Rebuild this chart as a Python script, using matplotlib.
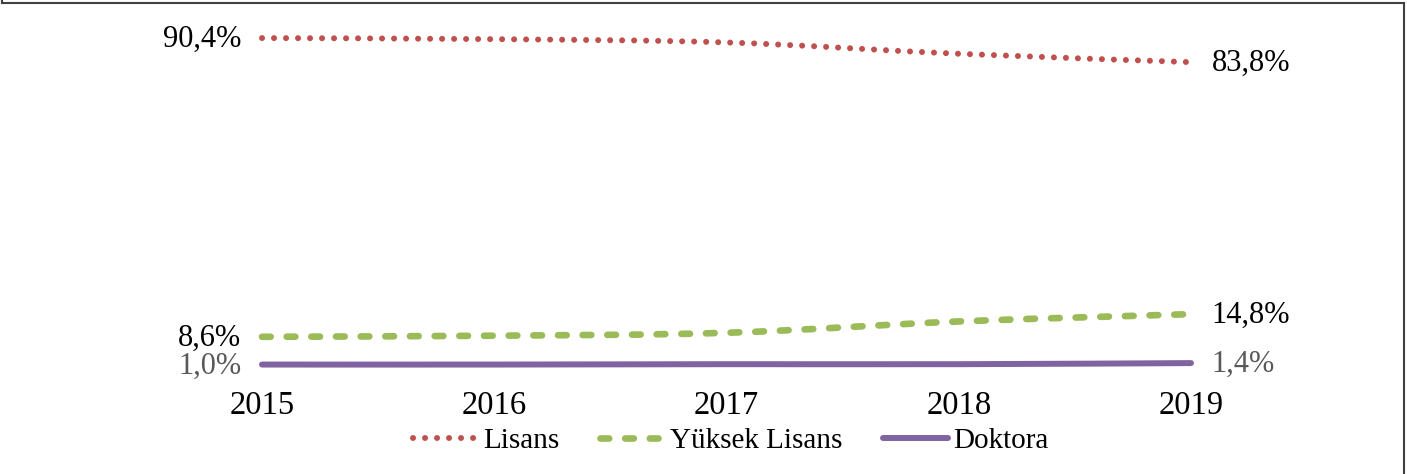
import numpy as np
import matplotlib
matplotlib.use("Agg")
import matplotlib.pyplot as plt
from matplotlib.path import Path
from matplotlib.patches import PathPatch
from matplotlib.lines import Line2D

plt.rcParams['font.family'] = ['Liberation Serif', 'DejaVu Serif']

years = [2015, 2016, 2017, 2018, 2019]
lisans = [90.4, 90.1, 89.2, 86.1, 83.8]
yuksek_lisans = [8.6, 8.9, 9.7, 12.8, 14.8]
doktora = [1.0, 1.0, 1.1, 1.1, 1.4]

series_names = ['Lisans', 'Yüksek Lisans', 'Doktora']
colors = ['#C0504D', '#9BBB59', '#8064A2']
label_colors = ['black', 'black', '#595959']


def smooth_path(x, y):
    """Bezier path through the points (Excel style smoothed line)."""
    p = np.column_stack([x, y]).astype(float)
    n = len(p)
    verts = [p[0]]
    codes = [Path.MOVETO]
    for i in range(n - 1):
        p0 = p[i - 1] if i > 0 else p[i]
        p3 = p[i + 2] if i + 2 < n else p[i + 1]
        c1 = p[i] + (p[i + 1] - p0) / 6.0
        c2 = p[i + 1] - (p3 - p[i]) / 6.0
        verts += [c1, c2, p[i + 1]]
        codes += [Path.CURVE4] * 3
    return Path(verts, codes)


fig = plt.figure(figsize=(14.07, 4.74), dpi=100)
ax = fig.add_axes([262 / 1407, 1 - 368.2 / 474, 929 / 1407, 365.2 / 474])
ax.set_xlim(2015, 2019)
ax.set_ylim(0, 100)

styles = [
    dict(lw=4.3, ls=(0, (0.01, 2.0)), capstyle='round'),
    dict(lw=4.8, ls=(0, (1.3, 2.4)), capstyle='round'),
    dict(lw=4.3, ls='-', capstyle='round'),
]

all_series = [lisans, yuksek_lisans, doktora]
for vals, col, st in zip(all_series, colors, styles):
    patch = PathPatch(smooth_path(years, vals), fill=False, edgecolor=col,
                      lw=st['lw'], ls=st['ls'], capstyle=st['capstyle'],
                      joinstyle='round', clip_on=False)
    ax.add_patch(patch)

# end labels
for vals, lc in zip(all_series, label_colors):
    ax.annotate(f"{vals[0]:.1f}%".replace('.', ','), (years[0], vals[0]),
                xytext=(-15, -1), textcoords='offset points', ha='right',
                va='center', fontsize=22, color=lc)
    ax.annotate(f"{vals[-1]:.1f}%".replace('.', ','), (years[-1], vals[-1]),
                xytext=(15, -1), textcoords='offset points', ha='left',
                va='center', fontsize=22, color=lc)

ax.set_xticks(years)
ax.set_xticklabels([str(y) for y in years], fontsize=23.5)
ax.tick_params(axis='x', length=0, pad=16)
ax.set_yticks([])
for s in ax.spines.values():
    s.set_visible(False)

handles = [Line2D([], [], color=c, lw=st['lw'], ls=st['ls'],
                  dash_capstyle='round', solid_capstyle='round')
           for c, st in zip(colors, styles)]
fig.legend(handles, series_names, loc='center', ncol=3,
           bbox_to_anchor=(731 / 1407, 1 - 441 / 474), frameon=False,
           fontsize=21, handlelength=2.2, handletextpad=0.2,
           columnspacing=1.4, borderaxespad=0)

# figure border
for xs, ys in [((1.5, 1.5), (0, 2.5)), ((1.5, 1403.5), (2.5, 2.5)),
               ((1403.5, 1403.5), (2.5, 474))]:
    fig.add_artist(Line2D([x / 1407 for x in xs], [1 - y / 474 for y in ys],
                          color='#404040', lw=1.5))

fig.savefig('out.png', dpi=100)
